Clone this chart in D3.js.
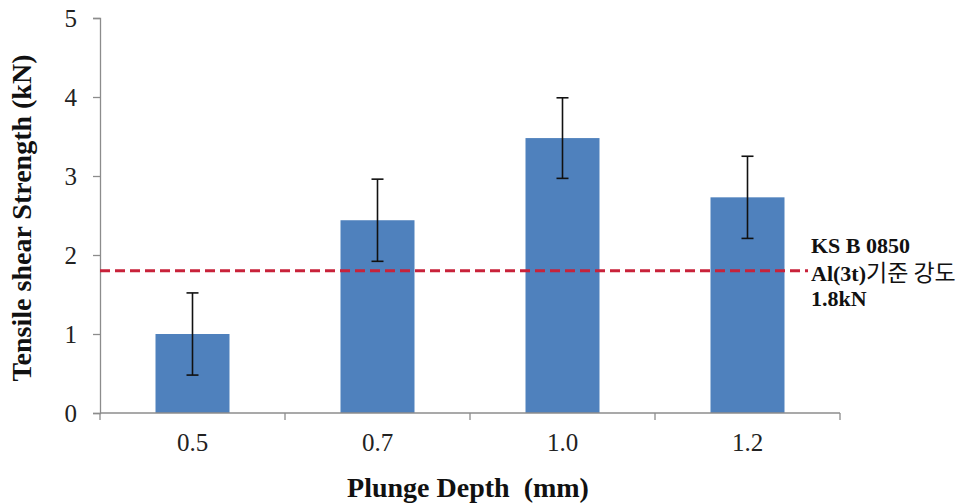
<!DOCTYPE html>
<html>
<head>
<meta charset="utf-8">
<script src="https://cdn.jsdelivr.net/npm/d3@7"></script>
<style>
  html, body { margin: 0; padding: 0; background: #fff; }
  svg { display: block; }
</style>
</head>
<body>
<svg id="chart" width="966" height="503"></svg>
<script>
// Plunge depth categories (mm)
const categories = ["0.5", "0.7", "1.0", "1.2"];
// Mean tensile shear strength (kN)
const strength = [1.0, 2.44, 3.48, 2.73];
// Error bar half-range (kN)
const errors = [0.52, 0.52, 0.51, 0.52];
// Y axis ticks
const yTicks = [0, 1, 2, 3, 4, 5];
// KS B 0850 reference strength (kN)
const referenceValue = 1.8;
const referenceLabel = ["KS B 0850", "Al(3t)", "기준 강도", "1.8kN"];

const svg = d3.select("#chart");
const serif = "'Liberation Serif', 'Times New Roman', serif";
const axisColor = "#8c8c8c";

const x = d3.scaleBand()
  .domain(categories)
  .range([100, 840])
  .paddingInner(0.6)
  .paddingOuter(0.3);

const y = d3.scaleLinear()
  .domain([0, 5])
  .range([413, 18]);

// Bars
svg.append("g")
  .selectAll("rect")
  .data(categories)
  .join("rect")
  .attr("x", d => x(d))
  .attr("y", (d, i) => y(strength[i]))
  .attr("width", x.bandwidth())
  .attr("height", (d, i) => y(0) - y(strength[i]))
  .attr("fill", "#4f81bd");

// Error bars
const eb = svg.append("g")
  .attr("stroke", "#111")
  .attr("stroke-width", 1.6)
  .attr("fill", "none");
categories.forEach((c, i) => {
  const cx = x(c) + x.bandwidth() / 2;
  const hi = y(strength[i] + errors[i]);
  const lo = y(strength[i] - errors[i]);
  eb.append("line").attr("x1", cx).attr("x2", cx).attr("y1", hi).attr("y2", lo);
  eb.append("line").attr("x1", cx - 6).attr("x2", cx + 6).attr("y1", hi).attr("y2", hi);
  eb.append("line").attr("x1", cx - 6).attr("x2", cx + 6).attr("y1", lo).attr("y2", lo);
});

// Y axis
const yAxis = svg.append("g")
  .attr("transform", "translate(100,0)")
  .call(d3.axisLeft(y).tickValues(yTicks).tickFormat(d3.format("d")).tickSize(7).tickPadding(16));
yAxis.select(".domain").attr("stroke", axisColor).attr("stroke-width", 1.3);
yAxis.selectAll(".tick line").attr("stroke", axisColor).attr("stroke-width", 1.3);
yAxis.selectAll(".tick text")
  .attr("font-family", serif)
  .attr("font-size", 25)
  .attr("fill", "#222");

// X axis: ticks sit on the category boundaries
const step = x.step();
const xAxis = svg.append("g")
  .attr("transform", `translate(0,${y(0)})`);
xAxis.append("line")
  .attr("x1", 100).attr("x2", 840)
  .attr("stroke", axisColor).attr("stroke-width", 1.3);
xAxis.selectAll("line.tick")
  .data(d3.range(categories.length + 1))
  .join("line")
  .attr("class", "tick")
  .attr("x1", i => 100 + i * step)
  .attr("x2", i => 100 + i * step)
  .attr("y1", 0).attr("y2", 7)
  .attr("stroke", axisColor).attr("stroke-width", 1.3);
xAxis.selectAll("text")
  .data(categories)
  .join("text")
  .attr("x", d => x(d) + x.bandwidth() / 2)
  .attr("y", 38)
  .attr("text-anchor", "middle")
  .attr("font-family", serif)
  .attr("font-size", 25)
  .attr("fill", "#222")
  .text(d => d);

// Reference line
svg.append("line")
  .attr("x1", 100).attr("x2", 808)
  .attr("y1", y(referenceValue)).attr("y2", y(referenceValue))
  .attr("stroke", "#c8223a")
  .attr("stroke-width", 3)
  .attr("stroke-dasharray", "10,5");

const ref = svg.append("text")
  .attr("x", 811)
  .attr("y", 253)
  .attr("font-family", serif)
  .attr("font-weight", "bold")
  .attr("font-size", 22)
  .attr("fill", "#111");
ref.append("tspan").attr("x", 811).attr("dy", 0).text(referenceLabel[0]);
ref.append("tspan").attr("x", 811).attr("dy", 28).text(referenceLabel[1]);
ref.append("tspan")
  .attr("font-family", "'Noto Sans CJK KR', sans-serif")
  .attr("font-weight", "normal")
  .attr("font-size", 23)
  .text(referenceLabel[2]);
ref.append("tspan").attr("x", 811).attr("dy", 25).text(referenceLabel[3]);

// Axis titles
svg.append("text")
  .attr("transform", `translate(31,218) rotate(-90)`)
  .attr("text-anchor", "middle")
  .attr("font-family", serif)
  .attr("font-weight", "bold")
  .attr("font-size", 28)
  .attr("fill", "#111")
  .text("Tensile shear Strength (kN)");

svg.append("text")
  .attr("x", 468)
  .attr("y", 497)
  .attr("text-anchor", "middle")
  .attr("font-family", serif)
  .attr("font-weight", "bold")
  .attr("font-size", 28)
  .attr("fill", "#111")
  .attr("xml:space", "preserve")
  .text("Plunge Depth  (mm)");
</script>
</body>
</html>
